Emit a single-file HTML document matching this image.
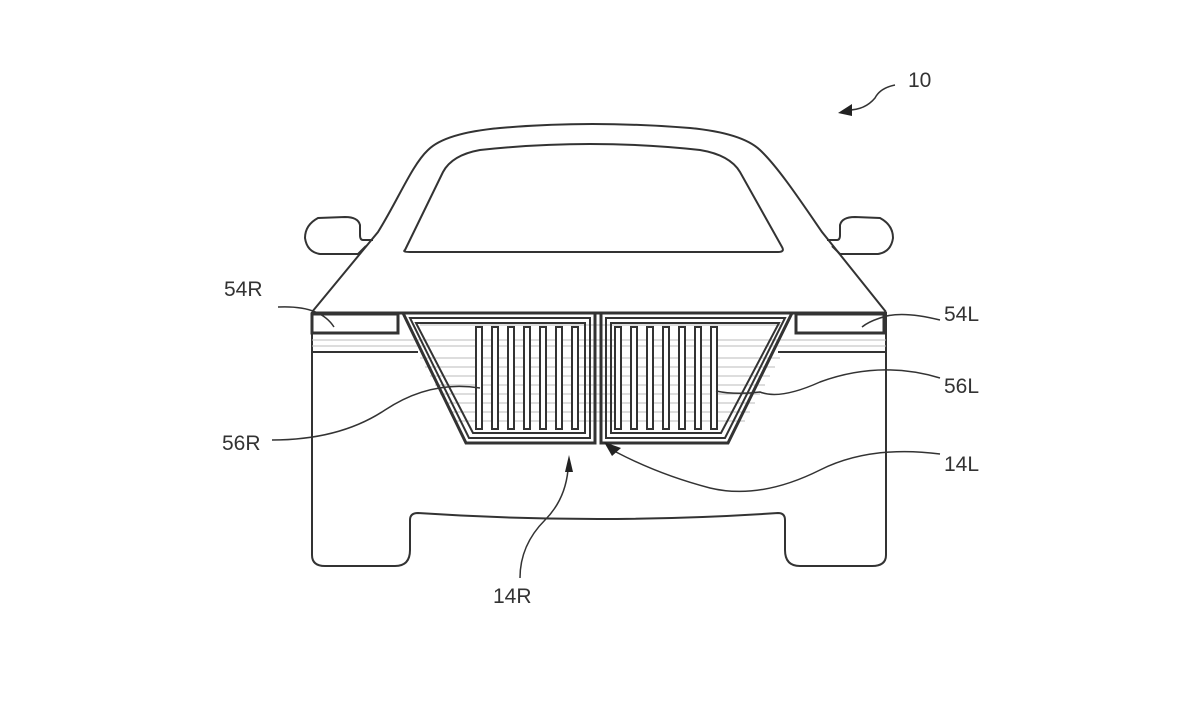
<!DOCTYPE html>
<html><head><meta charset="utf-8"><style>
html,body{margin:0;padding:0;background:#fff;}
svg{display:block;}
text{font-family:"Liberation Sans",sans-serif;font-size:21px;fill:#333;}
</style></head><body>
<svg width="1200" height="709" viewBox="0 0 1200 709" xmlns="http://www.w3.org/2000/svg">
<g fill="none" stroke="#333" stroke-width="2">
<path d="M312,312 L378,232 C398,200 412,165 428,150 Q445,133 500,128 Q590,120 690,128 Q742,133 760,150 C778,167 800,200 822,232 L886,312"/>
<path d="M405,250 L443,172 Q452,155 480,150 Q590,138 700,150 Q730,155 740,172 L782,247 Q785,252 778,252 L410,252 Q402,252 405,250 Z"/>
<path d="M373,240 L363,240 Q360,240 360,235 L360,225 Q358,217 345,217 L318,218 Q305,225 305,238 Q307,252 320,254 L358,254 L366,246"/>
<path d="M827,240 L837,240 Q840,240 840,235 L840,225 Q842,217 855,217 L880,218 Q893,225 893,238 Q891,252 878,254 L840,254 L832,246"/>
<path d="M312,312 L312,555 Q312,566 325,566 L395,566 Q410,566 410,550 L410,520 Q410,513 418,513 Q598,525 778,513 Q785,513 785,520 L785,550 Q785,566 800,566 L872,566 Q886,566 886,555 L886,312"/>
<line x1="312" y1="352" x2="418" y2="352"/>
<line x1="778" y1="352" x2="886" y2="352"/>
</g>
<g fill="none" stroke="#333" stroke-width="3">
<line x1="312" y1="313" x2="886" y2="313"/>
<rect x="312" y="314" width="86" height="19"/>
<rect x="796" y="314" width="88" height="19"/>
</g>
<g stroke="#bbb" stroke-width="1">
<line x1="312" y1="340" x2="886" y2="340"/>
<line x1="312" y1="346" x2="886" y2="346"/>
<line x1="420" y1="358" x2="780" y2="358"/>
<line x1="425" y1="367" x2="775" y2="367"/>
<line x1="430" y1="376" x2="770" y2="376"/>
<line x1="435" y1="385" x2="765" y2="385"/>
<line x1="440" y1="394" x2="760" y2="394"/>
<line x1="445" y1="403" x2="755" y2="403"/>
<line x1="450" y1="412" x2="750" y2="412"/>
<line x1="455" y1="421" x2="745" y2="421"/>
<line x1="420" y1="325" x2="780" y2="325"/>
</g>
<g fill="none" stroke="#333" stroke-width="2">
<path d="M403,313 L595,313 L595,443 L466,443 Z" stroke-width="3"/>
<path d="M410,318 L590,318 L590,438 L469,438 Z"/>
<path d="M416,323 L585,323 L585,433 L473,433 Z"/>
<path d="M601,313 L792,313 L728,443 L601,443 Z" stroke-width="3"/>
<path d="M606,318 L785,318 L725,438 L606,438 Z"/>
<path d="M611,323 L779,323 L721,433 L611,433 Z"/>
</g>
<g fill="#fff" stroke="#333" stroke-width="2">
<rect x="476" y="327" width="6" height="102"/><rect x="492" y="327" width="6" height="102"/><rect x="508" y="327" width="6" height="102"/><rect x="524" y="327" width="6" height="102"/><rect x="540" y="327" width="6" height="102"/><rect x="556" y="327" width="6" height="102"/><rect x="572" y="327" width="6" height="102"/>
<rect x="615" y="327" width="6" height="102"/><rect x="631" y="327" width="6" height="102"/><rect x="647" y="327" width="6" height="102"/><rect x="663" y="327" width="6" height="102"/><rect x="679" y="327" width="6" height="102"/><rect x="695" y="327" width="6" height="102"/><rect x="711" y="327" width="6" height="102"/>
</g>
<g fill="none" stroke="#333" stroke-width="1.5">
<path d="M895,85 Q880,88 875,98 Q865,110 848,110"/>
<path d="M278,307 Q320,305 334,327"/>
<path d="M940,320 Q900,310 880,318 Q868,322 862,327"/>
<path d="M940,378 Q880,360 820,382 Q780,400 760,392 Q735,395 716,391"/>
<path d="M272,440 Q340,440 385,410 Q430,380 480,388"/>
<path d="M940,454 Q870,445 820,470 Q760,500 710,488 Q660,475 616,452"/>
<path d="M520,578 Q520,545 545,520 Q565,500 568,470"/>
</g>
<g fill="#222">
<path d="M838,113 L852,104 L852,116 Z"/>
<path d="M604,442 L621,448 L612,456 Z"/>
<path d="M569,455 L565,472 L573,472 Z"/>
</g>
<text x="908" y="87">10</text>
<text x="224" y="296">54R</text>
<text x="944" y="321">54L</text>
<text x="944" y="393">56L</text>
<text x="222" y="450">56R</text>
<text x="944" y="471">14L</text>
<text x="493" y="603">14R</text>
</svg>
</body></html>
